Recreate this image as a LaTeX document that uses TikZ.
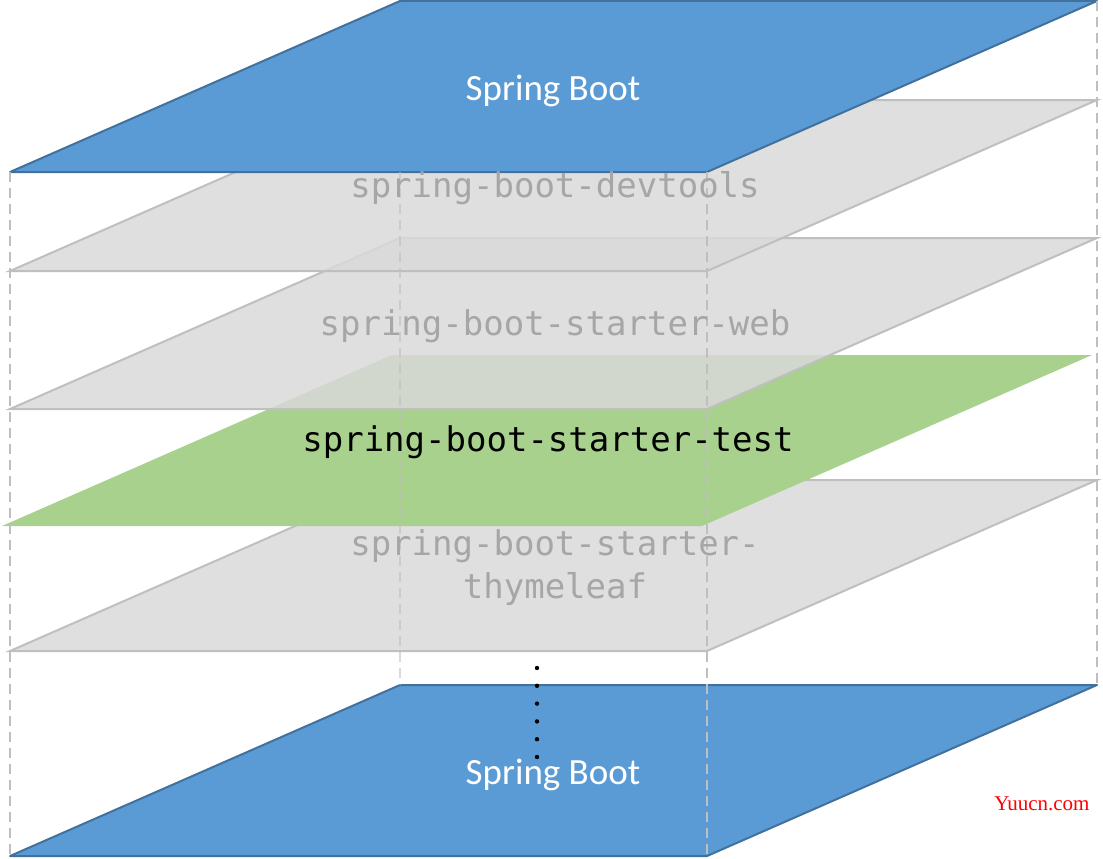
\documentclass[tikz,border=0pt]{standalone}
\usepackage{fontspec}
\newfontfamily\bootfont{Carlito}
\newfontfamily\codefont{DejaVu Sans Mono}
\newfontfamily\markfont{Liberation Serif}
\definecolor{bootblue}{HTML}{5B9BD5}
\definecolor{bootedge}{HTML}{41719C}
\definecolor{planegray}{HTML}{D9D9D9}
\definecolor{planeedge}{HTML}{BFBFBF}
\definecolor{testgreen}{HTML}{A9D18E}
\definecolor{codegray}{HTML}{A6A6A6}
\begin{document}
\begin{tikzpicture}[x=1pt,y=-1pt]
            \tikzstyle{bootplane} = [fill=bootblue, draw=bootedge, line width=2pt, line join=round]
            \tikzstyle{starterplane} = [fill=planegray, fill opacity=0.85, draw=planeedge, line width=2pt]
            \tikzstyle{testplane} = [fill=testgreen]
            \tikzstyle{guide} = [draw=planeedge, line width=2pt, dash pattern=on 10pt off 6pt]
            \tikzstyle{bootlabel} = [text=white, font=\bootfont\fontsize{37}{40}\selectfont]
            \tikzstyle{starterlabel} = [text=codegray, font=\codefont\fontsize{34}{43}\selectfont, align=center]
            \def \slant{390}
            \def \depth{171}
            \useasboundingbox (0,0) rectangle (1103,859);

            % bottom layer
            \draw[bootplane] (10,856) -- (707,856) -- (707+\slant,856-\depth) -- (10+\slant,856-\depth) -- cycle;
            % starters
            \draw[starterplane] (10,651) -- (707,651) -- (707+\slant,651-\depth) -- (10+\slant,651-\depth) -- cycle;
            \fill[testplane] (2,526) -- (702,526) -- (702+\slant,526-\depth) -- (2+\slant,526-\depth) -- cycle;
            \draw[starterplane] (10,409) -- (707,409) -- (707+\slant,409-\depth) -- (10+\slant,409-\depth) -- cycle;
            \draw[starterplane] (10,271) -- (707,271) -- (707+\slant,271-\depth) -- (10+\slant,271-\depth) -- cycle;
            % top layer
            \draw[bootplane] (10,172) -- (707,172) -- (707+\slant,172-\depth) -- (10+\slant,172-\depth) -- cycle;

            % guides
            \draw[guide] (10,172) -- (10,856);
            \draw[guide] (707,172) -- (707,856);
            \draw[guide, opacity=0.6] (400,172) -- (400,685);
            \draw[guide] (1097,1) -- (1097,685);

            % dots
            \foreach \k in {0,...,5}
                \fill[black] (537,668+17.8*\k) circle (2.2);

            \node[bootlabel] (topboot) at (553,91) {Spring Boot};
            \node[starterlabel] (devtools) at (555,188) {spring-boot-devtools};
            \node[starterlabel] (web) at (555,326) {spring-boot-starter-web};
            \node[starterlabel, text=black] (test) at (548,442) {spring-boot-starter-test};
            \node[starterlabel] (thymeleaf) at (555,568) {spring-boot-starter-\\thymeleaf};
            \node[bootlabel] (bottomboot) at (553,775) {Spring Boot};
            \node[text=red, font=\markfont\fontsize{21}{22}\selectfont] (mark) at (1042,804) {Yuucn.com};
        \end{tikzpicture}
\end{document}
